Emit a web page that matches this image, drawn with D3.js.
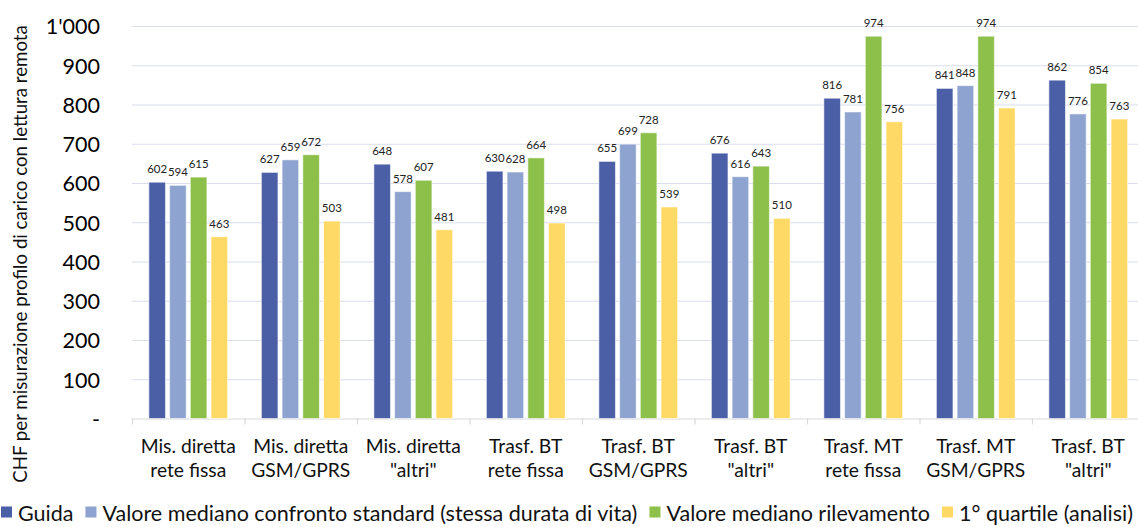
<!DOCTYPE html>
<html><head><meta charset="utf-8">
<script src="https://cdn.jsdelivr.net/npm/d3@7"></script>
<style>
html,body{margin:0;padding:0;background:#fff;overflow:hidden;}
svg{display:block;font-family:Lato,"Open Sans",sans-serif;}
</style></head>
<body>
<svg id="chart" width="1138" height="527"></svg>
<script>
const categories = [
  ["Mis. diretta","rete fissa"],
  ["Mis. diretta","GSM/GPRS"],
  ["Mis. diretta","\"altri\""],
  ["Trasf. BT","rete fissa"],
  ["Trasf. BT","GSM/GPRS"],
  ["Trasf. BT","\"altri\""],
  ["Trasf. MT","rete fissa"],
  ["Trasf. MT","GSM/GPRS"],
  ["Trasf. BT","\"altri\""]
];
const seriesNames = [
  "Guida",
  "Valore mediano confronto standard (stessa durata di vita)",
  "Valore mediano rilevamento",
  "1° quartile (analisi)"
];
const guida        = [602, 627, 648, 630, 655, 676, 816, 841, 862];
const medianoStd   = [594, 659, 578, 628, 699, 616, 781, 848, 776];
const medianoRil   = [615, 672, 607, 664, 728, 643, 974, 974, 854];
const primoQuart   = [463, 503, 481, 498, 539, 510, 756, 791, 763];
const seriesValues = [guida, medianoStd, medianoRil, primoQuart];
const colors = ["#4A5FA6", "#8FA3D0", "#8DC04A", "#FFD966"];
const yTicks = [0,100,200,300,400,500,600,700,800,900,1000];
const yTickLabels = ["-","100","200","300","400","500","600","700","800","900","1'000"];
const yTitle = "CHF per misurazione profilo di carico con lettura remota";

const svg = d3.select("#chart");
const plot = {left:132, right:1144.5, top:26, bottom:418.5};

function fitSize(text, target, base) {
  const t = svg.append("text").attr("font-size", base).text(text);
  const w = t.node().getComputedTextLength();
  t.remove();
  return base * target / w;
}

const keys = categories.map((c,i)=>i);
const x0 = d3.scaleBand().domain(keys).range([plot.left, plot.right]).paddingInner(0.3).paddingOuter(0.15);
const x1 = d3.scaleBand().domain(d3.range(seriesNames.length)).range([0, x0.bandwidth()]).paddingInner(0.2);
const y = d3.scaleLinear().domain([0,1000]).range([plot.bottom, plot.top]);

// gridlines
svg.append("g").selectAll("line").data(yTicks.filter(d=>d>0)).join("line")
  .attr("x1", plot.left).attr("x2", plot.right)
  .attr("y1", d=>y(d)+0.5).attr("y2", d=>y(d)+0.5)
  .attr("stroke", "#DADDEE").attr("stroke-width", 1.2);

// y axis labels
const tickSize = fitSize("500", 37.5, 20);
const yAxis = d3.axisLeft(y).tickValues(yTicks).tickFormat((d,i)=>yTickLabels[i]).tickSize(0).tickPadding(0);
const ya = svg.append("g").attr("transform", `translate(${100},0)`).call(yAxis);
ya.select(".domain").remove();
ya.selectAll("text").attr("font-size", tickSize).attr("fill", "#000").attr("font-family", "Lato").attr("dy", "0.36em");

// x baseline & ticks
svg.append("line").attr("x1", plot.left).attr("x2", plot.right).attr("y1", y(0)+0.5).attr("y2", y(0)+0.5)
  .attr("stroke", "#D9D9D9").attr("stroke-width", 1.2);
const sep = keys.map(k => x0(k) - x0.step()*x0.paddingOuter());
svg.append("g").selectAll("line").data(sep).join("line")
  .attr("x1", d=>d+0.5).attr("x2", d=>d+0.5).attr("y1", y(0)).attr("y2", y(0)+6)
  .attr("stroke", "#D9D9D9").attr("stroke-width", 1.2);

// bars
const groups = svg.append("g").selectAll("g").data(keys).join("g")
  .attr("transform", k => `translate(${x0(k)},0)`);
groups.selectAll("rect").data(k => seriesValues.map((s,si)=>({si, v:s[k]}))).join("rect")
  .attr("x", d=>x1(d.si)).attr("width", x1.bandwidth())
  .attr("y", d=>y(d.v)).attr("height", d=>y(0)-y(d.v))
  .attr("fill", d=>colors[d.si])
  .attr("stroke", "rgba(255,255,255,0.55)").attr("stroke-width", 1);

// data labels
const lblSize = fitSize("974", 20, 12);
groups.selectAll("text.lbl").data(k => seriesValues.map((s,si)=>({si, v:s[k]}))).join("text")
  .attr("class","lbl")
  .attr("x", d=>x1(d.si)+x1.bandwidth()/2).attr("y", d=>y(d.v)-9)
  .attr("text-anchor","middle").attr("font-size", lblSize).attr("fill","#222")
  .text(d=>d.v);

// category labels
const catSize = fitSize("Mis. diretta", 95, 16);
const cl = svg.append("g").selectAll("text").data(keys).join("text")
  .attr("text-anchor","middle").attr("font-size", catSize).attr("fill","#111")
  .attr("transform", k=>`translate(${x0(k)+x0.bandwidth()/2},0)`);
cl.append("tspan").attr("x",0).attr("y", 453).text(k=>categories[k][0]);
cl.append("tspan").attr("x",0).attr("y", 477).text(k=>categories[k][1]);

// y title
const titleSize = fitSize(yTitle, 458, 16);
svg.append("text").attr("transform", `translate(27,${254}) rotate(-90)`)
  .attr("text-anchor","middle").attr("font-size", titleSize).attr("fill","#111").text(yTitle);

// legend
const legY = 513, sq = 11, gapSqText = 6, gapItem = 12;
const legBase = 18;
let widths = seriesNames.map(n => {
  const t = svg.append("text").attr("font-size", legBase).text(n);
  const w = t.node().getComputedTextLength(); t.remove(); return w;
});
const startX = 1, endX = 1133;
const fixed = seriesNames.length*(sq+gapSqText) + (seriesNames.length-1)*gapItem;
const legSize = legBase * (endX - startX - fixed) / d3.sum(widths);
widths = widths.map(w => w*legSize/legBase);
let cx = startX;
const leg = svg.append("g");
seriesNames.forEach((n,i) => {
  leg.append("rect").attr("x", cx).attr("y", legY - sq/2 - 1).attr("width", sq).attr("height", sq).attr("fill", colors[i]);
  leg.append("text").attr("x", cx+sq+gapSqText).attr("y", legY).attr("dy","0.35em")
    .attr("font-size", legSize).attr("fill","#111").text(n);
  cx += sq + gapSqText + widths[i] + gapItem;
});
</script>
</body></html>
